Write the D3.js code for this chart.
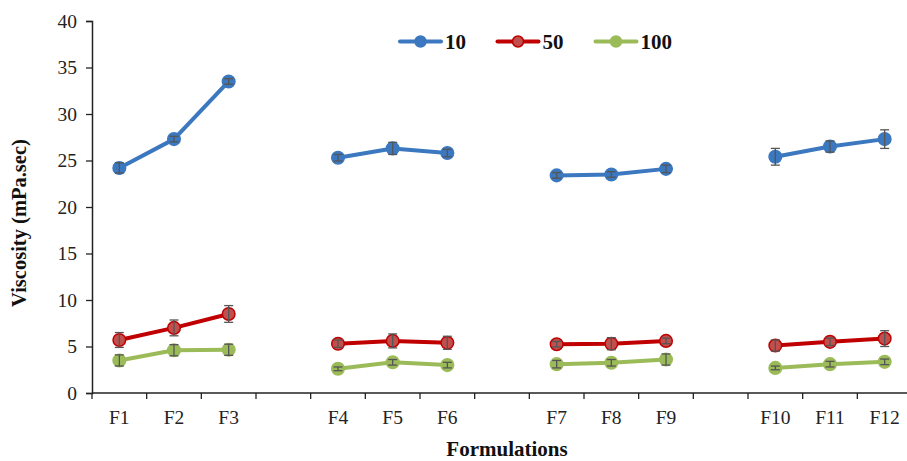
<!DOCTYPE html>
<html>
<head>
<meta charset="utf-8">
<script src="https://cdn.jsdelivr.net/npm/d3@7/dist/d3.min.js"></script>
<style>
  html, body { margin: 0; padding: 0; background: #fff; }
  svg { display: block; font-family: "Liberation Serif", "Times New Roman", serif; }
</style>
</head>
<body>
<svg id="chart" width="907" height="461"></svg>
<script>
// ---- data ----
const categories = ["F1","F2","F3","F4","F5","F6","F7","F8","F9","F10","F11","F12"];
const groups = [["F1","F2","F3"],["F4","F5","F6"],["F7","F8","F9"],["F10","F11","F12"]];
const seriesNames = ["10","50","100"];
const values10  = [24.2, 27.3, 33.5, 25.3, 26.3, 25.8, 23.4, 23.5, 24.1, 25.4, 26.5, 27.3];
const errors10  = [0.55, 0.3, 0.3, 0.35, 0.65, 0.4, 0.3, 0.3, 0.4, 0.9, 0.6, 1.0];
const values50  = [5.7, 7.0, 8.5, 5.3, 5.6, 5.4, 5.25, 5.3, 5.6, 5.1, 5.5, 5.85];
const errors50  = [0.8, 0.85, 0.9, 0.4, 0.75, 0.7, 0.3, 0.65, 0.3, 0.6, 0.4, 0.85];
const values100 = [3.5, 4.6, 4.65, 2.6, 3.3, 3.0, 3.1, 3.25, 3.6, 2.7, 3.1, 3.35];
const errors100 = [0.6, 0.6, 0.6, 0.2, 0.3, 0.3, 0.4, 0.35, 0.6, 0.2, 0.3, 0.3];
const yTicks = [0, 5, 10, 15, 20, 25, 30, 35, 40];
const xTitle = "Formulations";
const yTitle = "Viscosity (mPa.sec)";

// ---- styles ----
const colors = {
  "10":  { line: "#3b78bf", fill: "#3b78bf", stroke: "#3b78bf" },
  "50":  { line: "#c00000", fill: "#c0504d", stroke: "#c00000" },
  "100": { line: "#9bbb59", fill: "#9bbb59", stroke: "#9bbb59" }
};
const seriesData = [
  { name: "10",  values: values10,  errors: errors10 },
  { name: "50",  values: values50,  errors: errors50 },
  { name: "100", values: values100, errors: errors100 }
];

const svg = d3.select("#chart");
const mLeft = 92, mRight = 912, mTop = 21, mBottom = 393;

// slots: each group followed by a gap (except last)
const slots = [];
groups.forEach((g, i) => {
  g.forEach(c => slots.push(c));
  if (i < groups.length - 1) slots.push("gap" + i);
});

const x = d3.scaleBand().domain(slots).range([mLeft, mRight]).padding(0);
const y = d3.scaleLinear().domain([0, 40]).range([mBottom, mTop]);
const cx = c => x(c) + x.bandwidth() / 2;

// ---- y axis ----
const yAxis = d3.axisLeft(y).tickValues(yTicks).tickSize(6).tickPadding(9);
const gy = svg.append("g").attr("transform", `translate(${mLeft},0)`).call(yAxis);
gy.select(".domain").attr("stroke", "#222").attr("stroke-width", 1.5);
gy.selectAll(".tick line").attr("stroke", "#222").attr("stroke-width", 1.3);
gy.selectAll(".tick text").attr("font-size", 19.5).attr("fill", "#222")
  .attr("font-family", "Liberation Serif, serif");

// ---- x axis ----
const gx = svg.append("g");
gx.append("line").attr("x1", mLeft).attr("x2", mRight).attr("y1", mBottom).attr("y2", mBottom)
  .attr("stroke", "#222").attr("stroke-width", 1.5);
const tickPos = slots.map(s => x(s)).concat([mRight]);
gx.selectAll("line.tick").data(tickPos).join("line").attr("class", "tick")
  .attr("x1", d => d).attr("x2", d => d).attr("y1", mBottom).attr("y2", mBottom + 6)
  .attr("stroke", "#222").attr("stroke-width", 1.3);
gx.selectAll("text.cat").data(categories).join("text").attr("class", "cat")
  .attr("x", d => cx(d)).attr("y", mBottom + 31)
  .attr("text-anchor", "middle").attr("font-size", 19.5).attr("fill", "#222").text(d => d);

// ---- titles ----
svg.append("text").attr("x", 507).attr("y", 456).attr("text-anchor", "middle")
  .attr("font-size", 21).attr("font-weight", "bold").attr("fill", "#111").text(xTitle);
svg.append("text").attr("transform", `translate(26,223) rotate(-90)`)
  .attr("text-anchor", "middle").attr("font-size", 20.5).attr("font-weight", "bold")
  .attr("fill", "#111").text(yTitle);

// ---- series ----
const line = d3.line().x(d => cx(d.c)).y(d => y(d.v));
seriesData.forEach(s => {
  const col = colors[s.name];
  const pts = categories.map((c, i) => ({ c, v: s.values[i], e: s.errors[i] }));
  const g = svg.append("g");
  groups.forEach(grp => {
    const gp = pts.filter(p => grp.includes(p.c));
    g.append("path").datum(gp).attr("d", line).attr("fill", "none")
      .attr("stroke", col.line).attr("stroke-width", 4).attr("stroke-linejoin", "round");
  });
  g.selectAll("circle").data(pts).join("circle")
    .attr("cx", d => cx(d.c)).attr("cy", d => y(d.v)).attr("r", 6.3)
    .attr("fill", col.fill).attr("stroke", col.stroke).attr("stroke-width", 1.5);
  const eb = g.selectAll("g.err").data(pts).join("g").attr("class", "err")
    .attr("stroke", "#555").attr("stroke-width", 1.3);
  eb.append("line").attr("x1", d => cx(d.c)).attr("x2", d => cx(d.c))
    .attr("y1", d => y(d.v - d.e)).attr("y2", d => y(d.v + d.e));
  eb.append("line").attr("x1", d => cx(d.c) - 4.5).attr("x2", d => cx(d.c) + 4.5)
    .attr("y1", d => y(d.v + d.e)).attr("y2", d => y(d.v + d.e));
  eb.append("line").attr("x1", d => cx(d.c) - 4.5).attr("x2", d => cx(d.c) + 4.5)
    .attr("y1", d => y(d.v - d.e)).attr("y2", d => y(d.v - d.e));
});

// ---- legend ----
const legendX = [400, 497.5, 595.5];
const legY = 41.5;
seriesNames.forEach((n, i) => {
  const col = colors[n];
  const lg = svg.append("g").attr("transform", `translate(${legendX[i]},${legY})`);
  lg.append("line").attr("x1", 0).attr("x2", 41).attr("y1", 0).attr("y2", 0)
    .attr("stroke", col.line).attr("stroke-width", 4).attr("stroke-linecap", "round");
  lg.append("circle").attr("cx", 20.5).attr("cy", 0).attr("r", 5.5)
    .attr("fill", col.fill).attr("stroke", col.stroke).attr("stroke-width", 1.5);
  lg.append("text").attr("x", 45).attr("y", 7).attr("font-size", 21).attr("font-weight", "bold")
    .attr("fill", "#111").text(n);
});
</script>
</body>
</html>
